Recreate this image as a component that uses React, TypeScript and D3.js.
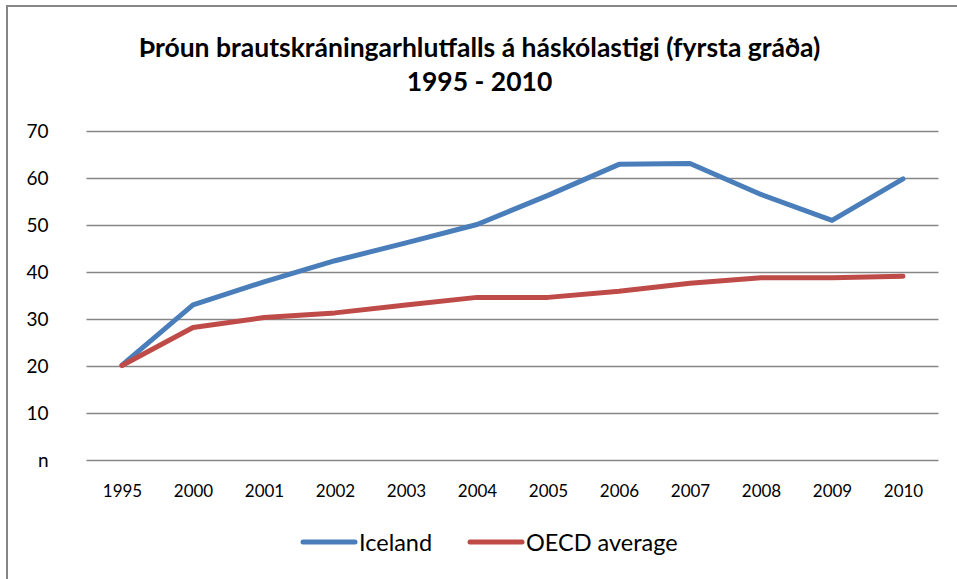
import React, { useEffect, useRef } from "react";
import * as d3 from "d3";

const years = ["1995", "2000", "2001", "2002", "2003", "2004", "2005", "2006", "2007", "2008", "2009", "2010"];
const iceland = [20.2, 33.0, 37.9, 42.4, 46.2, 50.1, 56.3, 62.9, 63.1, 56.5, 51.0, 59.8];
const oecd = [20.1, 28.2, 30.3, 31.3, 33.0, 34.6, 34.6, 35.9, 37.6, 38.8, 38.8, 39.1];
const yTicks = [0, 10, 20, 30, 40, 50, 60, 70];
const yTickLabels = ["n", "10", "20", "30", "40", "50", "60", "70"];
const seriesNames = ["Iceland", "OECD average"];
const colors = ["#4A7EBB", "#BE4B48"];

const W = 957;
const H = 579;
const font = "Lato, 'Open Sans', sans-serif";

export default function App() {
  const svgRef = useRef<SVGSVGElement>(null);

  useEffect(() => {
    const svg = d3.select(svgRef.current);
    svg.selectAll("*").remove();

    const left = 86.5;
    const right = 938.5;
    const top = 131;
    const bottom = 460;

    const x = d3.scalePoint().domain(years).range([left, right]).padding(0.5);
    const y = d3.scaleLinear().domain([0, 70]).range([bottom, top]);

    // outer frame
    svg
      .append("rect")
      .attr("x", 7)
      .attr("y", 6)
      .attr("width", W + 10)
      .attr("height", H + 10)
      .attr("fill", "white")
      .attr("stroke", "#868686")
      .attr("stroke-width", 2);

    // title
    const title = svg
      .append("text")
      .attr("text-anchor", "middle")
      .attr("font-family", font)
      .attr("font-weight", "bold")
      .attr("font-size", 26.5)
      .attr("fill", "#000");
    title.append("tspan").attr("x", 479.5).attr("y", 57).text("Þróun brautskráningarhlutfalls á háskólastigi (fyrsta gráða)");
    title.append("tspan").attr("x", 479.5).attr("y", 91).text("1995 - 2010");

    // gridlines + y labels
    const yAxis = d3
      .axisLeft(y)
      .tickValues(yTicks)
      .tickSize(-(right - left))
      .tickPadding(38)
      .tickFormat((d, i) => yTickLabels[i]);
    const gy = svg.append("g").attr("transform", `translate(${left},0)`).call(yAxis);
    gy.select(".domain").remove();
    gy.selectAll(".tick line").attr("stroke", "#868686").attr("stroke-width", 1.5);
    gy.selectAll(".tick text")
      .attr("font-family", font)
      .attr("font-size", 19)
      .attr("fill", "#000");

    const xAxis = d3.axisBottom(x).tickSize(0).tickPadding(25);
    const gx = svg.append("g").attr("transform", `translate(0,${bottom})`).call(xAxis);
    gx.select(".domain").remove();
    gx.selectAll(".tick text")
      .attr("font-family", font)
      .attr("font-size", 17)
      .attr("fill", "#000");

    const line = d3
      .line<number>()
      .x((_, i) => x(years[i]) as number)
      .y((d) => y(d));

    [iceland, oecd].forEach((data, i) => {
      svg
        .append("path")
        .datum(data)
        .attr("d", line)
        .attr("fill", "none")
        .attr("stroke", colors[i])
        .attr("stroke-width", 5)
        .attr("stroke-linejoin", "round")
        .attr("stroke-linecap", "round");
    });

    // legend
    const legendX = [303, 470];
    seriesNames.forEach((name, i) => {
      const g = svg.append("g").attr("transform", `translate(${legendX[i]},542)`);
      g.append("line")
        .attr("x1", 0)
        .attr("x2", 52)
        .attr("y1", 0)
        .attr("y2", 0)
        .attr("stroke", colors[i])
        .attr("stroke-width", 5)
        .attr("stroke-linecap", "round");

      g.append("text")
        .attr("x", 56)
        .attr("y", 8.5)
        .attr("font-family", font)
        .attr("font-size", 23.5)
        .attr("fill", "#000")
        .text(name);
    });
  }, []);

  return (
    <svg
      ref={svgRef}
      width={W}
      height={H}
      style={{ position: "absolute", left: 0, top: 0, background: "white" }}
    />
  );
}
